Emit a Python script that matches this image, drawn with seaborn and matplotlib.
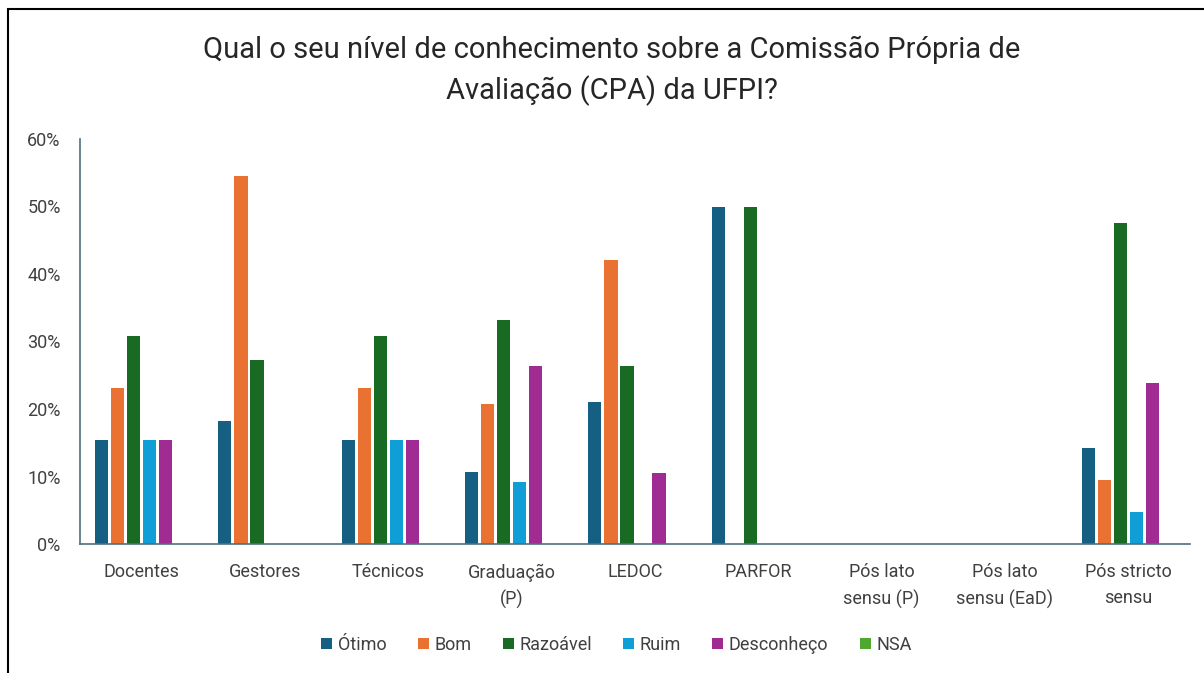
import matplotlib
matplotlib.use("Agg")
import matplotlib.pyplot as plt
import seaborn as sns
import pandas as pd
from matplotlib.patches import Rectangle
from matplotlib.ticker import PercentFormatter, MultipleLocator

categories = ["Docentes", "Gestores", "Técnicos", "Graduação\n(P)", "LEDOC", "PARFOR",
              "Pós lato\nsensu (P)", "Pós lato\nsensu (EaD)", "Pós stricto\nsensu"]
series = ["Ótimo", "Bom", "Razoável", "Ruim", "Desconheço", "NSA"]
otimo = [0.1538, 0.1818, 0.1538, 0.107, 0.2105, 0.50, 0, 0, 0.1429]
bom = [0.2308, 0.5455, 0.2308, 0.207, 0.4211, 0, 0, 0, 0.0952]
razoavel = [0.3077, 0.2727, 0.3077, 0.332, 0.2632, 0.50, 0, 0, 0.4762]
ruim = [0.1538, 0, 0.1538, 0.092, 0, 0, 0, 0, 0.0476]
desconheco = [0.1538, 0, 0.1538, 0.264, 0.1053, 0, 0, 0, 0.2381]
nsa = [0, 0, 0, 0, 0, 0, 0, 0, 0]
colors = ["#156082", "#E97132", "#196B24", "#0F9ED5", "#A02B93", "#4EA72E"]

title = "Qual o seu nível de conhecimento sobre a Comissão Própria de\nAvaliação (CPA) da UFPI?"

values = [otimo, bom, razoavel, ruim, desconheco, nsa]
rows = []
for s, vals in zip(series, values):
    for c, v in zip(categories, vals):
        rows.append({"categoria": c, "serie": s, "valor": v})
df = pd.DataFrame(rows)

sns.set_theme(style="white")
plt.rcParams["font.family"] = ["Roboto", "DejaVu Sans"]

fig = plt.figure(figsize=(12.04, 6.73), dpi=100)
ax = fig.add_axes([80 / 1204, 1 - 544 / 673, (1190 - 80) / 1204, (544 - 139) / 673])

sns.barplot(data=df, x="categoria", y="valor", hue="serie", order=categories,
            hue_order=series, palette=colors, saturation=1, width=0.78, gap=0.18,
            linewidth=0, ax=ax)

handles, labels = ax.get_legend_handles_labels()
ax.get_legend().remove()

ax.set_ylim(0, 0.6)
ax.set_xlim(-0.5, len(categories) - 0.5)
ax.yaxis.set_major_locator(MultipleLocator(0.1))
ax.yaxis.set_major_formatter(PercentFormatter(1.0, decimals=0))
ax.set_xlabel("")
ax.set_ylabel("")
for sp in ["top", "right"]:
    ax.spines[sp].set_visible(False)
for sp in ["left", "bottom"]:
    ax.spines[sp].set_color("#4d6f7d")
    ax.spines[sp].set_linewidth(1.2)
ax.tick_params(axis="y", length=0, pad=14, labelsize=13, labelcolor="#404040")
ax.tick_params(axis="x", length=0, pad=14, labelsize=13, labelcolor="#404040")
for t in ax.get_xticklabels():
    t.set_linespacing(1.55)

fig.text(0.508, 1 - 71 / 673, title, ha="center", va="center", fontsize=21,
         color="#262626", linespacing=1.5)

fig.legend(handles, labels, loc="center", bbox_to_anchor=(0.512, 1 - 645 / 673),
           ncol=6, frameon=False, fontsize=13, handlelength=0.6, handleheight=0.6,
           handletextpad=0.3, columnspacing=1.75, labelcolor="#404040")

border = Rectangle((8 / 1204, -0.05), 1.2, 1 - 9 / 673 + 0.05, transform=fig.transFigure,
                   fill=False, edgecolor="black", linewidth=1.5, clip_on=False)
fig.patches.append(border)

fig.savefig("out.png", dpi=100)
